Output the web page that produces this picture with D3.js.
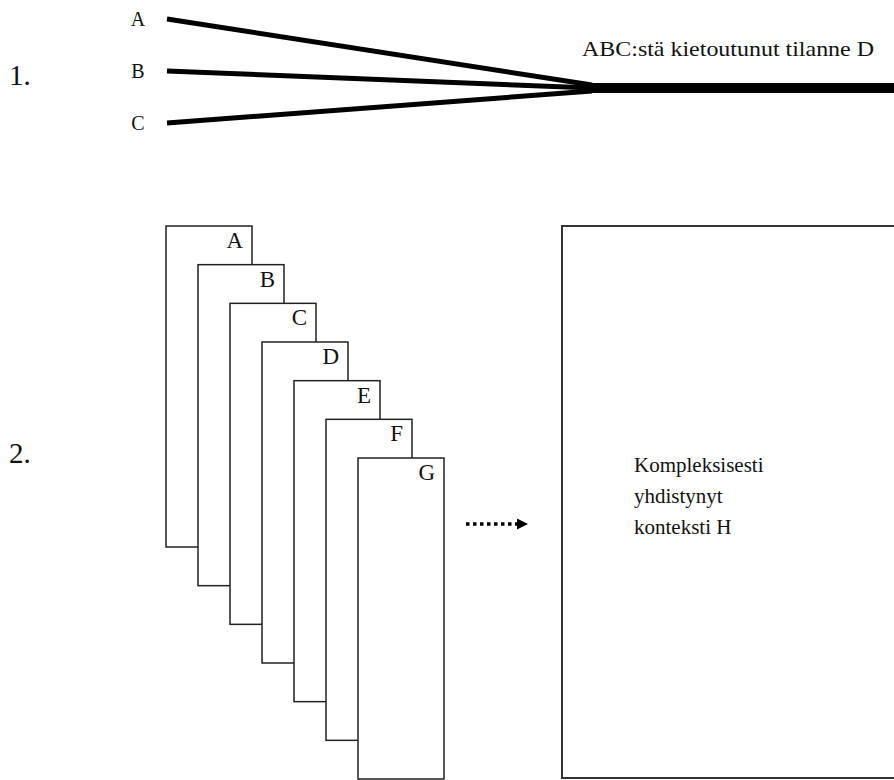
<!DOCTYPE html>
<html>
<head>
<meta charset="utf-8">
<script src="https://cdn.jsdelivr.net/npm/d3@7"></script>
<style>
  html, body { margin: 0; padding: 0; background: #fff; }
  text { font-family: "Liberation Serif", "DejaVu Serif", serif; fill: #111; }
</style>
</head>
<body>
<script>
// part 1: three strands that merge into one
var strands = ["A", "B", "C"];
var strandEnd = [-1, 0, 1];          // where each strand lands on the merged line
var mergedLabel = "ABC:stä kietoutunut tilanne D";

// part 2: stacked contexts and the combined one
var cards = ["A", "B", "C", "D", "E", "F", "G"];
var resultLines = ["Kompleksisesti", "yhdistynyt", "konteksti H"];
var sectionLabels = ["1.", "2."];

var W = 894, H = 780;

var svg = d3.select("body").append("svg")
    .attr("width", W)
    .attr("height", H);

// ---- part 1 ----
var yStrand = d3.scalePoint().domain(strands).range([19, 123]);
var yMerge = d3.scaleLinear().domain([-1, 1]).range([85, 91]);
var xStart = 167, xMerge = 592;

var g1 = svg.append("g");

g1.selectAll("line.strand")
  .data(strands)
  .enter()
  .append("line")
  .attr("class", "strand")
  .attr("x1", xStart)
  .attr("y1", function(d) { return yStrand(d); })
  .attr("x2", xMerge)
  .attr("y2", function(d, i) { return yMerge(strandEnd[i]); })
  .attr("stroke", "#000")
  .attr("stroke-width", 5);

g1.append("line")
  .attr("x1", xMerge - 10)
  .attr("y1", yMerge(0))
  .attr("x2", W + 5)
  .attr("y2", yMerge(0))
  .attr("stroke", "#000")
  .attr("stroke-width", 10);

g1.selectAll("text.strand")
  .data(strands)
  .enter()
  .append("text")
  .attr("class", "strand")
  .attr("x", 138)
  .attr("y", function(d) { return yStrand(d) + 7; })
  .attr("text-anchor", "middle")
  .style("font-size", "20px")
  .text(function(d) { return d; });

// Garamond-like width: stretch the label to the measured extent
g1.append("text")
  .attr("x", 582)
  .attr("y", 56)
  .attr("textLength", 292)
  .attr("lengthAdjust", "spacingAndGlyphs")
  .style("font-size", "21px")
  .text(mergedLabel);

// section numbers
svg.selectAll("text.section")
  .data(sectionLabels)
  .enter()
  .append("text")
  .attr("class", "section")
  .attr("x", 9)
  .attr("y", function(d, i) { return [85, 463][i]; })
  .style("font-size", "29px")
  .text(function(d) { return d; });

// ---- part 2 ----
var cardW = 86, cardH = 321;
var xCard = d3.scaleLinear().domain([0, cards.length - 1]).range([166, 358]);
var yCard = d3.scaleLinear().domain([0, cards.length - 1]).range([226, 458]);

var g2 = svg.append("g");

var card = g2.selectAll("g.card")
  .data(cards)
  .enter()
  .append("g")
  .attr("class", "card")
  .attr("transform", function(d, i) { return "translate(" + xCard(i) + "," + yCard(i) + ")"; });

card.append("rect")
  .attr("width", cardW)
  .attr("height", cardH)
  .attr("fill", "#fff")
  .attr("stroke", "#222")
  .attr("stroke-width", 1.5);

card.append("text")
  .attr("x", cardW - 9)
  .attr("y", 22)
  .attr("text-anchor", "end")
  .style("font-size", "23px")
  .text(function(d) { return d; });

// dotted arrow
svg.append("defs").append("marker")
  .attr("id", "head")
  .attr("viewBox", "0 0 10 10")
  .attr("refX", 0)
  .attr("refY", 5)
  .attr("markerWidth", 13)
  .attr("markerHeight", 11)
  .attr("markerUnits", "userSpaceOnUse")
  .attr("orient", "auto")
  .append("path")
  .attr("d", "M0,0L10,5L0,10Z")
  .attr("fill", "#000");

svg.append("line")
  .attr("x1", 466)
  .attr("y1", 524)
  .attr("x2", 517)
  .attr("y2", 524)
  .attr("stroke", "#000")
  .attr("stroke-width", 3.5)
  .attr("stroke-dasharray", "3.5,3.5")
  .attr("marker-end", "url(#head)");

// combined context box
svg.append("rect")
  .attr("x", 562)
  .attr("y", 226)
  .attr("width", 360)
  .attr("height", 552)
  .attr("fill", "none")
  .attr("stroke", "#333")
  .attr("stroke-width", 2);

svg.append("g")
  .selectAll("text")
  .data(resultLines)
  .enter()
  .append("text")
  .attr("x", 634)
  .attr("y", function(d, i) { return 472 + i * 31; })
  .style("font-size", "21px")
  .text(function(d) { return d; });
</script>
</body>
</html>
